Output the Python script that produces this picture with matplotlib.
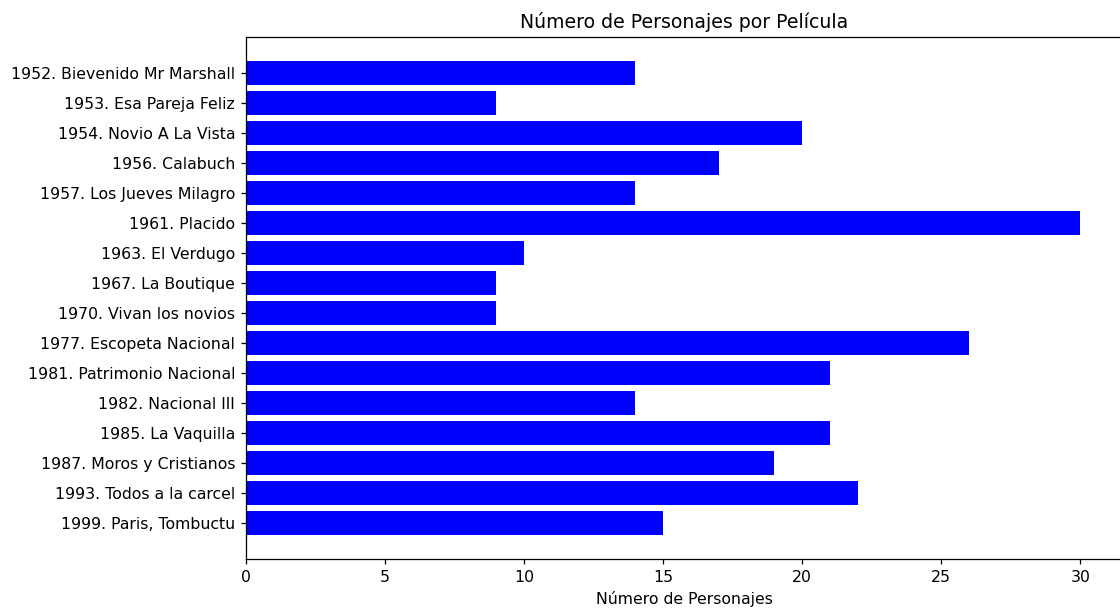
import matplotlib
matplotlib.use("Agg")
import matplotlib.pyplot as plt

peliculas = [
    "1952. Bievenido Mr Marshall",
    "1953. Esa Pareja Feliz",
    "1954. Novio A La Vista",
    "1956. Calabuch",
    "1957. Los Jueves Milagro",
    "1961. Placido",
    "1963. El Verdugo",
    "1967. La Boutique",
    "1970. Vivan los novios",
    "1977. Escopeta Nacional",
    "1981. Patrimonio Nacional",
    "1982. Nacional III",
    "1985. La Vaquilla",
    "1987. Moros y Cristianos",
    "1993. Todos a la carcel",
    "1999. Paris, Tombuctu",
]
personajes = [14, 9, 20, 17, 14, 30, 10, 9, 9, 26, 21, 14, 21, 19, 22, 15]

s = 1.13
plt.rcParams.update({
    "font.size": 10 * s,
    "axes.titlesize": 12 * s,
    "axes.labelsize": 10 * s,
    "xtick.labelsize": 10 * s,
    "ytick.labelsize": 10 * s,
    "xtick.major.size": 3.5 * s,
    "ytick.major.size": 3.5 * s,
    "xtick.major.pad": 3.5 * s,
    "ytick.major.pad": 3.5 * s,
    "axes.linewidth": 0.8 * s,
    "xtick.major.width": 0.8 * s,
    "ytick.major.width": 0.8 * s,
    "axes.titlepad": 6 * s,
    "axes.labelpad": 4 * s,
})

fig = plt.figure(figsize=(11.2, 6.09), dpi=100)
ax = fig.add_axes([246/1120, 1-559/609, 876/1120, (559-37)/609])
ax.barh(peliculas, personajes, color="blue")
ax.invert_yaxis()
ax.set_xlim(0, 31.5)
ax.set_title("Número de Personajes por Película")
ax.set_xlabel("Número de Personajes")
fig.savefig("out.png", dpi=100)
